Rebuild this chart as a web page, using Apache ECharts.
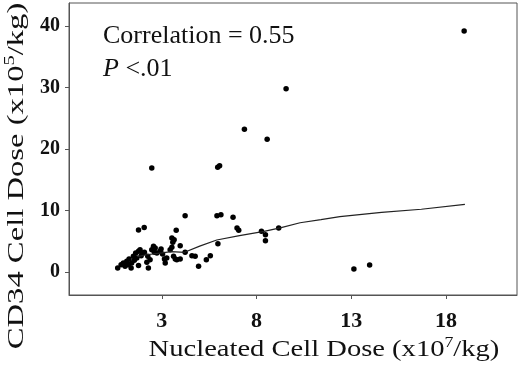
<!DOCTYPE html>
<html>
<head>
<meta charset="utf-8">
<script src="https://cdn.jsdelivr.net/npm/echarts@6/dist/echarts.min.js"></script>
<style>
  html, body { margin: 0; padding: 0; background: #fff; }
  #chart { width: 520px; height: 369px; }
</style>
</head>
<body>
<div id="chart"></div>
<script>
// 散点：有核细胞剂量 (x10^7/kg) vs CD34 细胞剂量 (x10^5/kg)
var points = [
  [0.67, 0.65], [0.85, 1.19], [0.97, 1.46], [1.06, 0.92], [1.15, 1.73],
  [1.24, 1.19], [1.27, 2.11], [1.38, 0.65], [1.41, 1.46], [1.50, 2.54],
  [1.55, 1.89], [1.62, 3.09], [1.68, 2.27], [1.77, 1.03], [1.77, 3.36],
  [1.85, 3.63], [1.91, 2.65], [1.98, 3.09], [2.08, 3.19], [2.21, 1.57],
  [2.26, 2.54], [2.29, 0.65], [2.38, 2.00], [2.47, 3.63], [2.56, 4.17],
  [2.61, 3.19], [2.65, 3.90], [2.74, 3.09], [2.91, 3.36], [2.96, 3.73],
  [3.04, 2.92], [3.14, 2.11], [3.18, 1.46], [3.26, 2.27], [3.44, 3.63],
  [3.53, 4.00], [1.77, 6.82], [2.07, 7.25],
  [4.23, 9.15], [5.91, 9.15], [6.12, 9.30], [6.76, 8.88], [6.97, 7.14],
  [7.06, 6.77], [3.76, 6.77], [3.53, 5.52], [3.65, 5.25], [3.58, 4.82],
  [3.97, 4.28], [3.62, 2.54], [3.71, 2.11], [3.79, 2.00], [3.97, 2.11],
  [4.23, 3.19], [4.59, 2.65], [4.76, 2.54], [4.94, 0.92], [5.35, 2.00],
  [5.56, 2.65], [5.96, 4.60],
  [8.26, 6.60], [8.47, 6.06], [8.47, 5.09], [9.17, 7.14],
  [2.47, 16.9], [5.95, 17.05], [6.05, 17.27], [8.56, 21.6], [7.36, 23.2],
  [9.56, 29.8], [13.14, 0.49], [13.97, 1.14], [18.96, 39.2]
];

// 平滑拟合曲线
var fitLine = [
  [1.7, 2.5], [2.2, 2.8], [3.0, 3.1], [3.5, 3.3], [4.2, 3.2], [5.0, 4.2],
  [5.9, 5.2], [7.1, 5.9], [8.4, 6.6], [9.3, 7.2], [10.3, 8.0], [11.4, 8.5],
  [12.4, 9.0], [14.6, 9.7], [16.7, 10.2], [19.0, 11.0]
];

var xTicks = [3, 8, 13, 18];
var yTicks = [0, 10, 20, 30, 40];

var serif = '"Liberation Serif", "Times New Roman", serif';

// 轴标题（带上标）
var nameRich = {
  t: { fontFamily: serif, fontSize: 24, fill: '#111', lineHeight: 28 },
  s: { fontFamily: serif, fontSize: 15, fill: '#111', verticalAlign: 'top', lineHeight: 28 }
};

var chart = echarts.init(document.getElementById('chart'));
chart.setOption({
  animation: false,
  backgroundColor: '#fff',
  grid: {
    left: 69, right: 3, top: 3, bottom: 74,
    outerBoundsMode: 'none',
    containLabel: false,
    show: true, borderColor: '#555', borderWidth: 1
  },
  xAxis: {
    type: 'value',
    min: -1.9, max: 21.75,
    splitLine: { show: false },
    axisLine: { show: true, onZero: false, lineStyle: { color: '#555' } },
    axisTick: { show: true, inside: false, length: 4, customValues: xTicks, lineStyle: { color: '#555' } },
    axisLabel: {
      customValues: xTicks, margin: 15,
      fontFamily: serif, fontSize: 22, fontWeight: 'bold', color: '#111'
    }
  },
  yAxis: {
    type: 'value',
    min: -3.75, max: 43.75,
    splitLine: { show: false },
    axisLine: { show: true, onZero: false, lineStyle: { color: '#555' } },
    axisTick: { show: true, inside: false, length: 4, customValues: yTicks, lineStyle: { color: '#555' } },
    axisLabel: {
      customValues: yTicks, margin: 9,
      fontFamily: serif, fontSize: 20, fontWeight: 'bold', color: '#111'
    }
  },
  graphic: [
    {
      type: 'text', x: 324, y: 350, scaleX: 1.19,
      style: {
        text: '{t|Nucleated Cell Dose (x10}{s|7}{t|/kg)}',
        align: 'center', verticalAlign: 'middle', rich: nameRich
      }
    },
    {
      type: 'text', x: 17, y: 176, rotation: Math.PI / 2, scaleX: 1.36,
      style: {
        text: '{t|CD34 Cell Dose (x10}{s|5}{t|/kg)}',
        align: 'center', verticalAlign: 'middle', rich: nameRich
      }
    },
    {
      type: 'text', left: 103, top: 23,
      style: { text: 'Correlation = 0.55', font: '26px ' + serif, fill: '#111' }
    },
    {
      type: 'text', left: 103, top: 56,
      style: {
        text: '{i|P} <.01',
        font: '26px ' + serif, fill: '#111',
        rich: { i: { fontFamily: serif, fontSize: 26, fontStyle: 'italic', fill: '#111' } }
      }
    }
  ],
  series: [
    {
      type: 'scatter',
      data: points,
      symbolSize: 5.5,
      itemStyle: { color: '#000', opacity: 1 }
    },
    {
      type: 'line',
      data: fitLine,
      showSymbol: false,
      smooth: false,
      lineStyle: { color: '#222', width: 1.2 }
    }
  ]
});
</script>
</body>
</html>
